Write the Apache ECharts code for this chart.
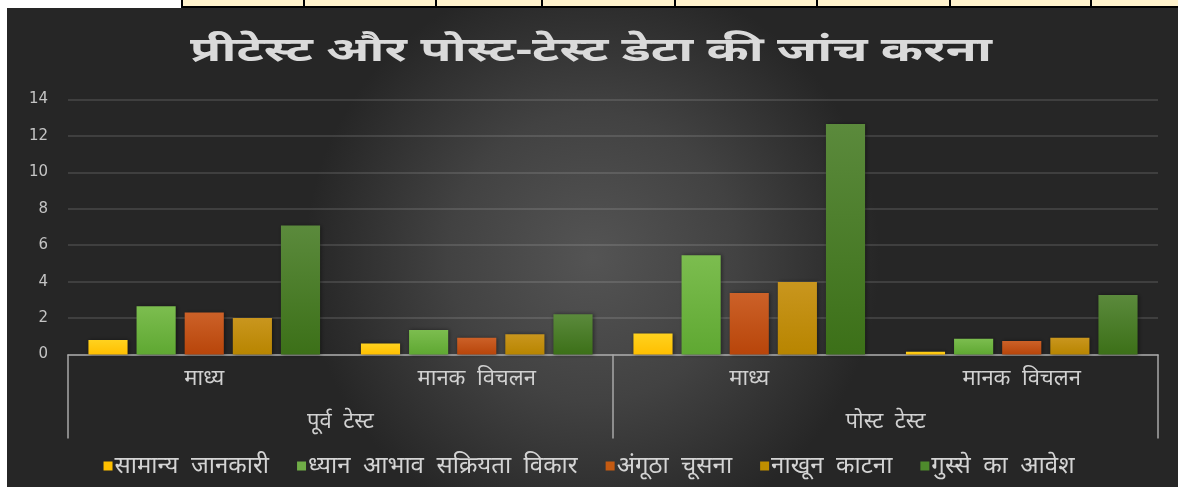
<!DOCTYPE html>
<html>
<head>
<meta charset="utf-8">
<script src="https://cdn.jsdelivr.net/npm/echarts@6/dist/echarts.min.js"></script>
<style>
html,body{margin:0;padding:0;background:#ffffff;}
#chart{width:1178px;height:487px;}
</style>
</head>
<body>
<div id="chart"></div>
<script>
const titleText = 'प्रीटेस्ट और पोस्ट-टेस्ट डेटा की जांच करना';
const innerCategories = ['माध्य', 'मानक विचलन', 'माध्य', 'मानक विचलन'];
const outerCategories = ['पूर्व टेस्ट', 'पोस्ट टेस्ट'];
const seriesNames = ['सामान्य जानकारी', 'ध्यान आभाव सक्रियता विकार', 'अंगूठा चूसना', 'नाखून काटना', 'गुस्से का आवेश'];
const samanyaJankari = [0.8, 0.6, 1.15, 0.15];
const dhyanAbhav = [2.65, 1.35, 5.45, 0.87];
const angoothaChoosna = [2.3, 0.92, 3.37, 0.74];
const nakhoonKatna = [2.0, 1.11, 3.98, 0.92];
const gussaAvesh = [7.08, 2.21, 12.65, 3.27];
const yTicks = [0, 2, 4, 6, 8, 10, 12, 14];

const seriesValues = [samanyaJankari, dhyanAbhav, angoothaChoosna, nakhoonKatna, gussaAvesh];
const topColors = ['#ffd21f', '#7cbd4f', '#cc6128', '#c9961e', '#5b8a3c'];
const botColors = ['#ffbf00', '#5fa832', '#b8450a', '#b88500', '#3c7018'];
const legendColors = ['#ffc000', '#70ad47', '#c55a11', '#bf8f00', '#4e8a2c'];

const FONT = '"Noto Sans", "DejaVu Sans", sans-serif';
const widen = s => s.split(' ').join('  ');
const chart = echarts.init(document.getElementById('chart'), null, {renderer: 'canvas'});

const series = seriesNames.map((name, i) => ({
  name: name,
  type: 'bar',
  xAxisIndex: 0,
  yAxisIndex: 0,
  barGap: '23%',
  barCategoryGap: '15%',
  itemStyle: {
    color: new echarts.graphic.LinearGradient(0, 0, 0, 1, [
      {offset: 0, color: topColors[i]},
      {offset: 1, color: botColors[i]}
    ]),
    shadowColor: 'rgba(0,0,0,0.45)',
    shadowBlur: 4,
    shadowOffsetX: 1,
    shadowOffsetY: 0
  },
  data: seriesValues[i]
}));

const option = {
  backgroundColor: 'transparent',
  animation: false,
  graphic: [
    {
      type: 'rect', z: -10, silent: true,
      shape: {x: 7, y: 8, width: 1171, height: 479},
      style: {
        fill: new echarts.graphic.RadialGradient(0.5, 0.52, 0.6, [
          {offset: 0, color: '#545454'},
          {offset: 0.5, color: '#424242'},
          {offset: 1, color: '#262626'}
        ])
      }
    },
    {
      type: 'rect', z: -5, silent: true,
      shape: {x: 182, y: -2, width: 1000, height: 9},
      style: {fill: '#fff2cc', stroke: '#000', lineWidth: 2}
    },
    ...[304, 436, 542, 675, 817, 950, 1091].map(x => ({
      type: 'line', z: -4, silent: true,
      shape: {x1: x, y1: 0, x2: x, y2: 8},
      style: {stroke: '#000', lineWidth: 2}
    })),
    {
      type: 'text', z: 10, silent: true,
      x: 591, y: 51,
      scaleX: 1.5, scaleY: 1,
      style: {
        text: titleText,
        font: 'bold 34px "Noto Sans", sans-serif',
        fill: '#dadada',
        align: 'center',
        verticalAlign: 'middle',
        shadowColor: 'rgba(0,0,0,0.8)',
        shadowBlur: 4,
        shadowOffsetX: 1,
        shadowOffsetY: 2
      }
    }
  ],
  legend: {
    data: seriesNames.map((n, i) => ({name: n, itemStyle: {color: legendColors[i]}})),
    formatter: name => widen(name),
    bottom: 4,
    left: 'center',
    itemWidth: 9,
    itemHeight: 9,
    itemGap: 28,
    icon: 'rect',
    textStyle: {fontFamily: FONT, fontSize: 24, color: '#d4d4d4', padding: [0, 0, 0, -3]}
  },
  grid: {left: 68, right: 20, top: 99.5, bottom: 132.5, containLabel: false},
  xAxis: [
    {
      type: 'category',
      data: innerCategories,
      position: 'bottom',
      axisLine: {show: true, lineStyle: {color: '#a8a8a8', width: 1.5}},
      axisTick: {show: false},
      axisLabel: {fontFamily: FONT, fontSize: 22, color: '#d0d0d0', margin: 13, formatter: v => widen(v)},
      splitLine: {show: false}
    },
    {
      type: 'category',
      data: outerCategories,
      position: 'bottom',
      gridIndex: 0,
      axisLine: {show: false},
      axisTick: {show: true, length: 84, lineStyle: {color: '#a8a8a8', width: 1.5}},
      axisLabel: {fontFamily: FONT, fontSize: 22, color: '#d0d0d0', margin: 56, formatter: v => widen(v)},
      splitLine: {show: false}
    }
  ],
  yAxis: {
    type: 'value',
    min: 0,
    max: 14,
    interval: 2,
    axisLine: {show: false},
    axisTick: {show: false},
    axisLabel: {fontFamily: '"DejaVu Sans", sans-serif', fontSize: 15, color: '#c4c4c4', margin: 20},
    splitLine: {lineStyle: {color: 'rgba(255,255,255,0.16)', width: 1.5}}
  },
  series: series
};
chart.setOption(option);
</script>
</body>
</html>
